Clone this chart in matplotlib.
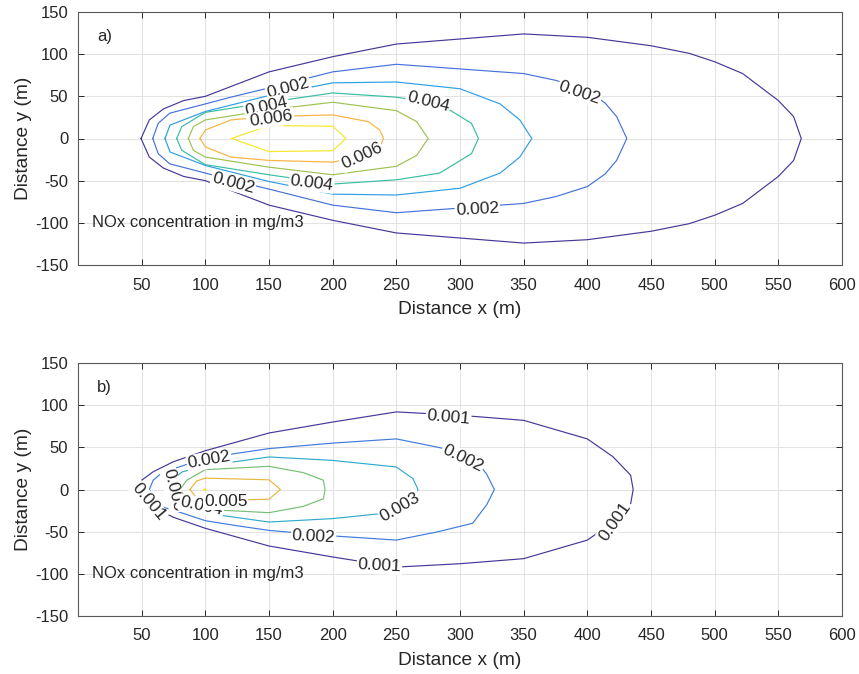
import matplotlib
matplotlib.use("Agg")
import matplotlib.pyplot as plt
from matplotlib.colors import LinearSegmentedColormap, Normalize

plt.rcParams['font.family'] = ['Liberation Sans', 'DejaVu Sans']
plt.rcParams['axes.unicode_minus'] = False

# ---------------------------------------------------------------------------
# Contour data: upper half of each iso-concentration line (mirrored about y=0)
# ---------------------------------------------------------------------------
A_LEVELS = [0.001, 0.002, 0.003, 0.004, 0.005, 0.006, 0.007]
A_X = [
    [49.5, 56, 67, 83, 100, 150, 200, 250, 350, 400, 450, 480, 500, 522, 550, 562, 568],
    [58.7, 63, 72, 100, 120, 150, 200, 250, 350, 375, 400, 414, 423, 431],
    [68.3, 72.3, 100, 150, 200, 250, 300, 331.5, 347, 356.4],
    [77.5, 81.5, 100, 150, 200, 250, 284, 296, 309, 314.5],
    [86.7, 90.6, 100, 150, 200, 250, 266, 275],
    [95.8, 100, 120, 150, 200, 228, 237, 240],
    [120.7, 150, 200, 210.5],
]
A_Y = [
    [0, 22, 35, 45, 50, 79, 97, 112, 124, 120, 110, 101, 91, 77, 45, 26, 0],
    [0, 18, 30, 41, 49, 60, 79, 88, 77, 69, 57, 42, 26, 0],
    [0, 16, 32, 51, 66, 67, 59, 41, 22, 0],
    [0, 14, 31, 43, 54, 49, 41, 30, 18, 0],
    [0, 14, 22, 34, 43, 33, 20, 0],
    [0, 10, 22, 26, 28, 20, 10, 0],
    [0, 15.5, 14.5, 0],
]
A_LAB_LEVEL = [0.002, 0.004, 0.006, 0.006, 0.004, 0.002, 0.004, 0.002, 0.002]
A_LAB_X = [165, 148, 152, 223, 183.5, 122, 275, 313.7, 394]
A_LAB_Y = [60.3, 38.2, 23.7, -21, -52.5, -52.5, 44, -83.7, 54]
A_LAB_ROT = [15, 13, 8, 25, -7, -15, -14, 3, -19]

B_LEVELS = [0.001, 0.002, 0.003, 0.004, 0.005, 0.006]
B_X = [
    [45, 50, 59, 75, 100, 150, 200, 250, 300, 350, 400, 420, 434, 436],
    [56, 59, 67, 80, 100, 125, 150, 200, 250, 283, 310, 321, 327],
    [70, 74, 82, 100, 150, 200, 250, 263, 267],
    [80, 85.4, 100, 150, 177, 192.7, 194],
    [88, 93, 100, 150, 159],
    [99, 100, 101],
]
B_Y = [
    [0, 11, 21, 33, 46, 67, 80, 92, 88, 82, 60, 39, 17, 0],
    [0, 11, 21, 27, 37, 43, 48.5, 55, 60, 50, 40, 18, 0],
    [0, 12, 21, 28, 38.6, 34.5, 26.7, 13, 0],
    [0, 11, 23.5, 27.5, 20, 11, 0],
    [0, 10, 13.5, 11.5, 0],
    [0, 0.8, 0],
]
B_LAB_LEVEL = [0.001, 0.002, 0.003, 0.004, 0.005, 0.002, 0.001, 0.002, 0.003, 0.001, 0.001]
B_LAB_X = [55.3, 103, 74.4, 97, 116, 185, 291, 302, 253, 236.7, 421.8]
B_LAB_Y = [-14.7, 34.7, -0.8, -19.8, -14.7, -56, 86, 36.7, -20.6, -90.4, -37.5]
B_LAB_ROT = [-50, 10, -76, -12, 0, -3, -5, -26, 30, -3, 55]

X_TICKS = [50, 100, 150, 200, 250, 300, 350, 400, 450, 500, 550, 600]
Y_TICKS = [-150, -100, -50, 0, 50, 100, 150]

# parula-like colour map (purple -> blue -> teal -> olive -> orange -> yellow)
PARULA = LinearSegmentedColormap.from_list('parula_like', [
    (0.0 / 6, (0.27, 0.22, 0.60)),
    (1.0 / 6, (0.27, 0.45, 0.86)),
    (2.0 / 6, (0.18, 0.62, 0.90)),
    (3.0 / 6, (0.22, 0.74, 0.64)),
    (4.0 / 6, (0.62, 0.76, 0.32)),
    (5.0 / 6, (0.98, 0.70, 0.24)),
    (6.0 / 6, (0.97, 0.90, 0.16)),
])

TXT = (0.15, 0.15, 0.15)


def draw_panel(ax, levels, xs, ys, lab_lv, lab_x, lab_y, lab_rot, tag):
    norm = Normalize(min(levels), max(levels))
    for lv, x, y in zip(levels, xs, ys):
        fx = list(x) + list(x[::-1])[1:]
        fy = list(y) + [-v for v in y[::-1]][1:]
        ax.plot(fx, fy, color=PARULA(norm(lv)), lw=0.85, zorder=2)
    for lv, x, y, r in zip(lab_lv, lab_x, lab_y, lab_rot):
        ax.text(x, y, f"{lv:.3f}", rotation=r, rotation_mode='anchor',
                ha='center', va='center', fontsize=12.5, color=TXT, zorder=3,
                bbox=dict(fc='white', ec='none', pad=0.8))

    ax.set_xlim(0, 600)
    ax.set_ylim(-150, 150)
    ax.set_xticks(X_TICKS)
    ax.set_yticks(Y_TICKS)
    ax.grid(True, color='#e3e3e3', lw=0.8, zorder=0)
    ax.set_axisbelow(True)
    ax.tick_params(direction='in', length=4, width=0.7, colors=TXT,
                   labelsize=12, top=True, right=True)
    ax.tick_params(axis='x', pad=9)
    ax.tick_params(axis='y', pad=7)
    for s in ax.spines.values():
        s.set_color((0.35, 0.35, 0.35))
        s.set_linewidth(0.8)
    ax.set_xlabel('Distance x (m)', fontsize=13.8, color=TXT, labelpad=6)
    ax.set_ylabel('Distance y (m)', fontsize=13.8, color=TXT, labelpad=2)
    ax.text(15, 121, tag, fontsize=12, color=TXT, va='center', ha='left')
    ax.text(11, -100, 'NOx concentration in mg/m3', fontsize=12, color=TXT,
            va='center', ha='left', zorder=3)


fig = plt.figure(figsize=(8.59, 6.74), dpi=100)
ax_a = fig.add_axes([78 / 859, 1 - 265 / 674, 764 / 859, 253 / 674])
ax_b = fig.add_axes([78 / 859, 1 - 616 / 674, 764 / 859, 253 / 674])

draw_panel(ax_a, A_LEVELS, A_X, A_Y, A_LAB_LEVEL, A_LAB_X, A_LAB_Y, A_LAB_ROT, 'a)')
draw_panel(ax_b, B_LEVELS, B_X, B_Y, B_LAB_LEVEL, B_LAB_X, B_LAB_Y, B_LAB_ROT, 'b)')

fig.savefig('out.png', dpi=100, facecolor='white')
